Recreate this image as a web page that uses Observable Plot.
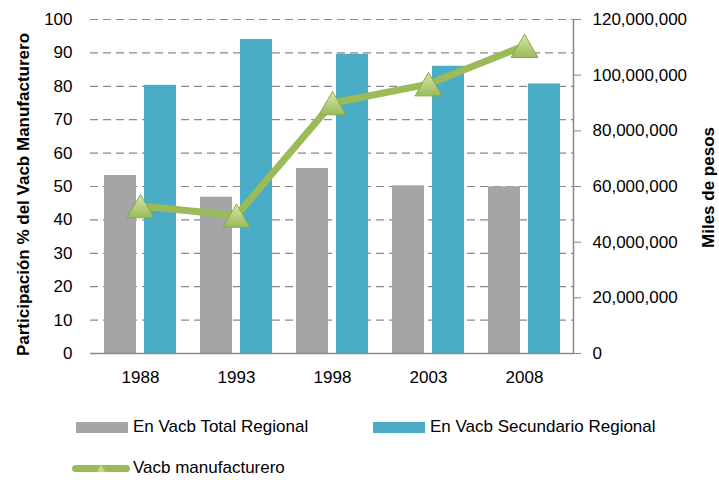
<!DOCTYPE html>
<html>
<head>
<meta charset="utf-8">
<script src="https://cdn.jsdelivr.net/npm/d3@7"></script>
<script src="https://cdn.jsdelivr.net/npm/@observablehq/plot@0.6"></script>
<style>
  body { margin: 0; background: #fff; font-family: "Liberation Sans", Arial, sans-serif; }
  #wrap { position: relative; width: 719px; height: 480px; }
  #legend { position: relative; width: 719px; height: 80px; font-size: 17px; color: #000; }
  .item { position: absolute; display: flex; align-items: center; white-space: nowrap; }
  .sw { width: 52px; height: 11px; margin-right: 5px; }
  .lsw { position: relative; width: 58px; height: 7px; margin-right: 3px; }
  .lsw .bar { position: absolute; left: 0; top: 0; width: 58px; height: 7px; border-radius: 4px; background: #9bbb59; }
  .lsw .tri { position: absolute; left: 25px; top: -1px; width: 0; height: 0; border-left: 4px solid transparent; border-right: 4px solid transparent; border-bottom: 8px solid #c3d88e; }
</style>
</head>
<body>
<div id="wrap">
  <div id="chart"></div>
  <div id="legend"></div>
</div>
<script>
const years = ["1988", "1993", "1998", "2003", "2008"];
const totalRegional = [53.3, 46.8, 55.4, 50.2, 49.9];
const secundarioRegional = [80.3, 94.0, 89.6, 86.0, 80.7];
const manufacturero = [53.0e6, 49.6e6, 90.0e6, 96.8e6, 110.6e6];
const leftTicks = [0, 10, 20, 30, 40, 50, 60, 70, 80, 90, 100];
const rightTicks = [0, 20e6, 40e6, 60e6, 80e6, 100e6, 120e6];
const rightMax = 120e6;
const leftTitle = "Participación % del Vacb Manufacturero";
const rightTitle = "Miles de pesos";
const seriesNames = ["En Vacb Total Regional", "En Vacb Secundario Regional", "Vacb manufacturero"];
const colors = ["#a5a5a5", "#4bacc6", "#9bbb59"];

const data = years.map((year, i) => ({
  year,
  total: totalRegional[i],
  secundario: secundarioRegional[i],
  manuf: manufacturero[i]
}));
const toLeft = v => v / rightMax * 100;
const fmt = d3.format(",");

const svg = Plot.plot({
  width: 719,
  height: 400,
  marginLeft: 90,
  marginRight: 146,
  marginTop: 19,
  marginBottom: 47,
  style: { fontSize: "17px", fontFamily: "'Liberation Sans', Arial, sans-serif", color: "#000", background: "#fff" },
  x: { type: "band", domain: years, paddingInner: 0, paddingOuter: 0 },
  y: { domain: [0, 100] },
  marks: [
    Plot.gridY(leftTicks.filter(d => d > 0), { stroke: "#8a8a8a", strokeOpacity: 1, strokeDasharray: "8,5", strokeWidth: 1.2 }),
    Plot.barY(data, { x: "year", y: "total", fill: colors[0], insetLeft: 12, insetRight: 52 }),
    Plot.barY(data, { x: "year", y: "secundario", fill: colors[1], insetLeft: 52, insetRight: 12 }),
    Plot.ruleY([0], { stroke: "#8a8a8a", strokeWidth: 1.5 }),
    Plot.frame({ anchor: "right", stroke: "#8a8a8a", strokeWidth: 1.5 }),
    Plot.axisY({ anchor: "left", ticks: leftTicks, tickSize: 0, tickPadding: 18, label: null }),
    Plot.axisY(rightTicks, { anchor: "right", y: d => toLeft(d), text: d => fmt(d), tickSize: 7, tickPadding: 12, stroke: "#8a8a8a", label: null }),
    Plot.axisX({ tickSize: 0, tickPadding: 17, label: null }),
    Plot.line(data, { x: "year", y: d => toLeft(d.manuf), stroke: colors[2], strokeWidth: 7 }),
    Plot.dot(data, { x: "year", y: d => toLeft(d.manuf), symbol: "triangle", r: 10, dy: 4, fill: "url(#triGrad)", stroke: "#89a94a", strokeWidth: 1 }),
    Plot.text([leftTitle], { frameAnchor: "left", text: d => d, textAnchor: "middle", rotate: -90, dx: -67, dy: 8, fontWeight: "bold", fontSize: 17 }),
    Plot.text([rightTitle], { frameAnchor: "right", text: d => d, textAnchor: "middle", rotate: -90, dx: 135, dy: 1, fontWeight: "bold", fontSize: 17 })
  ]
});

d3.select(svg).insert("defs", ":first-child").html(
  `<linearGradient id="triGrad" x1="0" y1="0" x2="0" y2="1">
     <stop offset="0%" stop-color="#d6e6ae"/>
     <stop offset="100%" stop-color="#9bbb59"/>
   </linearGradient>`
);
document.getElementById("chart").appendChild(svg);

const legend = d3.select("#legend");
const legendItems = [
  { name: seriesNames[0], color: colors[0], type: "box", left: 76, top: 27 },
  { name: seriesNames[1], color: colors[1], type: "box", left: 373, top: 27 },
  { name: seriesNames[2], color: colors[2], type: "line", left: 72, top: 68 }
];
legendItems.forEach(it => {
  const item = legend.append("div").attr("class", "item")
    .style("left", it.left + "px").style("top", (it.top - 11) + "px").style("height", "22px");
  if (it.type === "box") {
    item.append("div").attr("class", "sw").style("background", it.color);
  } else {
    const l = item.append("div").attr("class", "lsw");
    l.append("div").attr("class", "bar");
    l.append("div").attr("class", "tri");
  }
  item.append("span").text(it.name);
});
</script>
</body>
</html>
